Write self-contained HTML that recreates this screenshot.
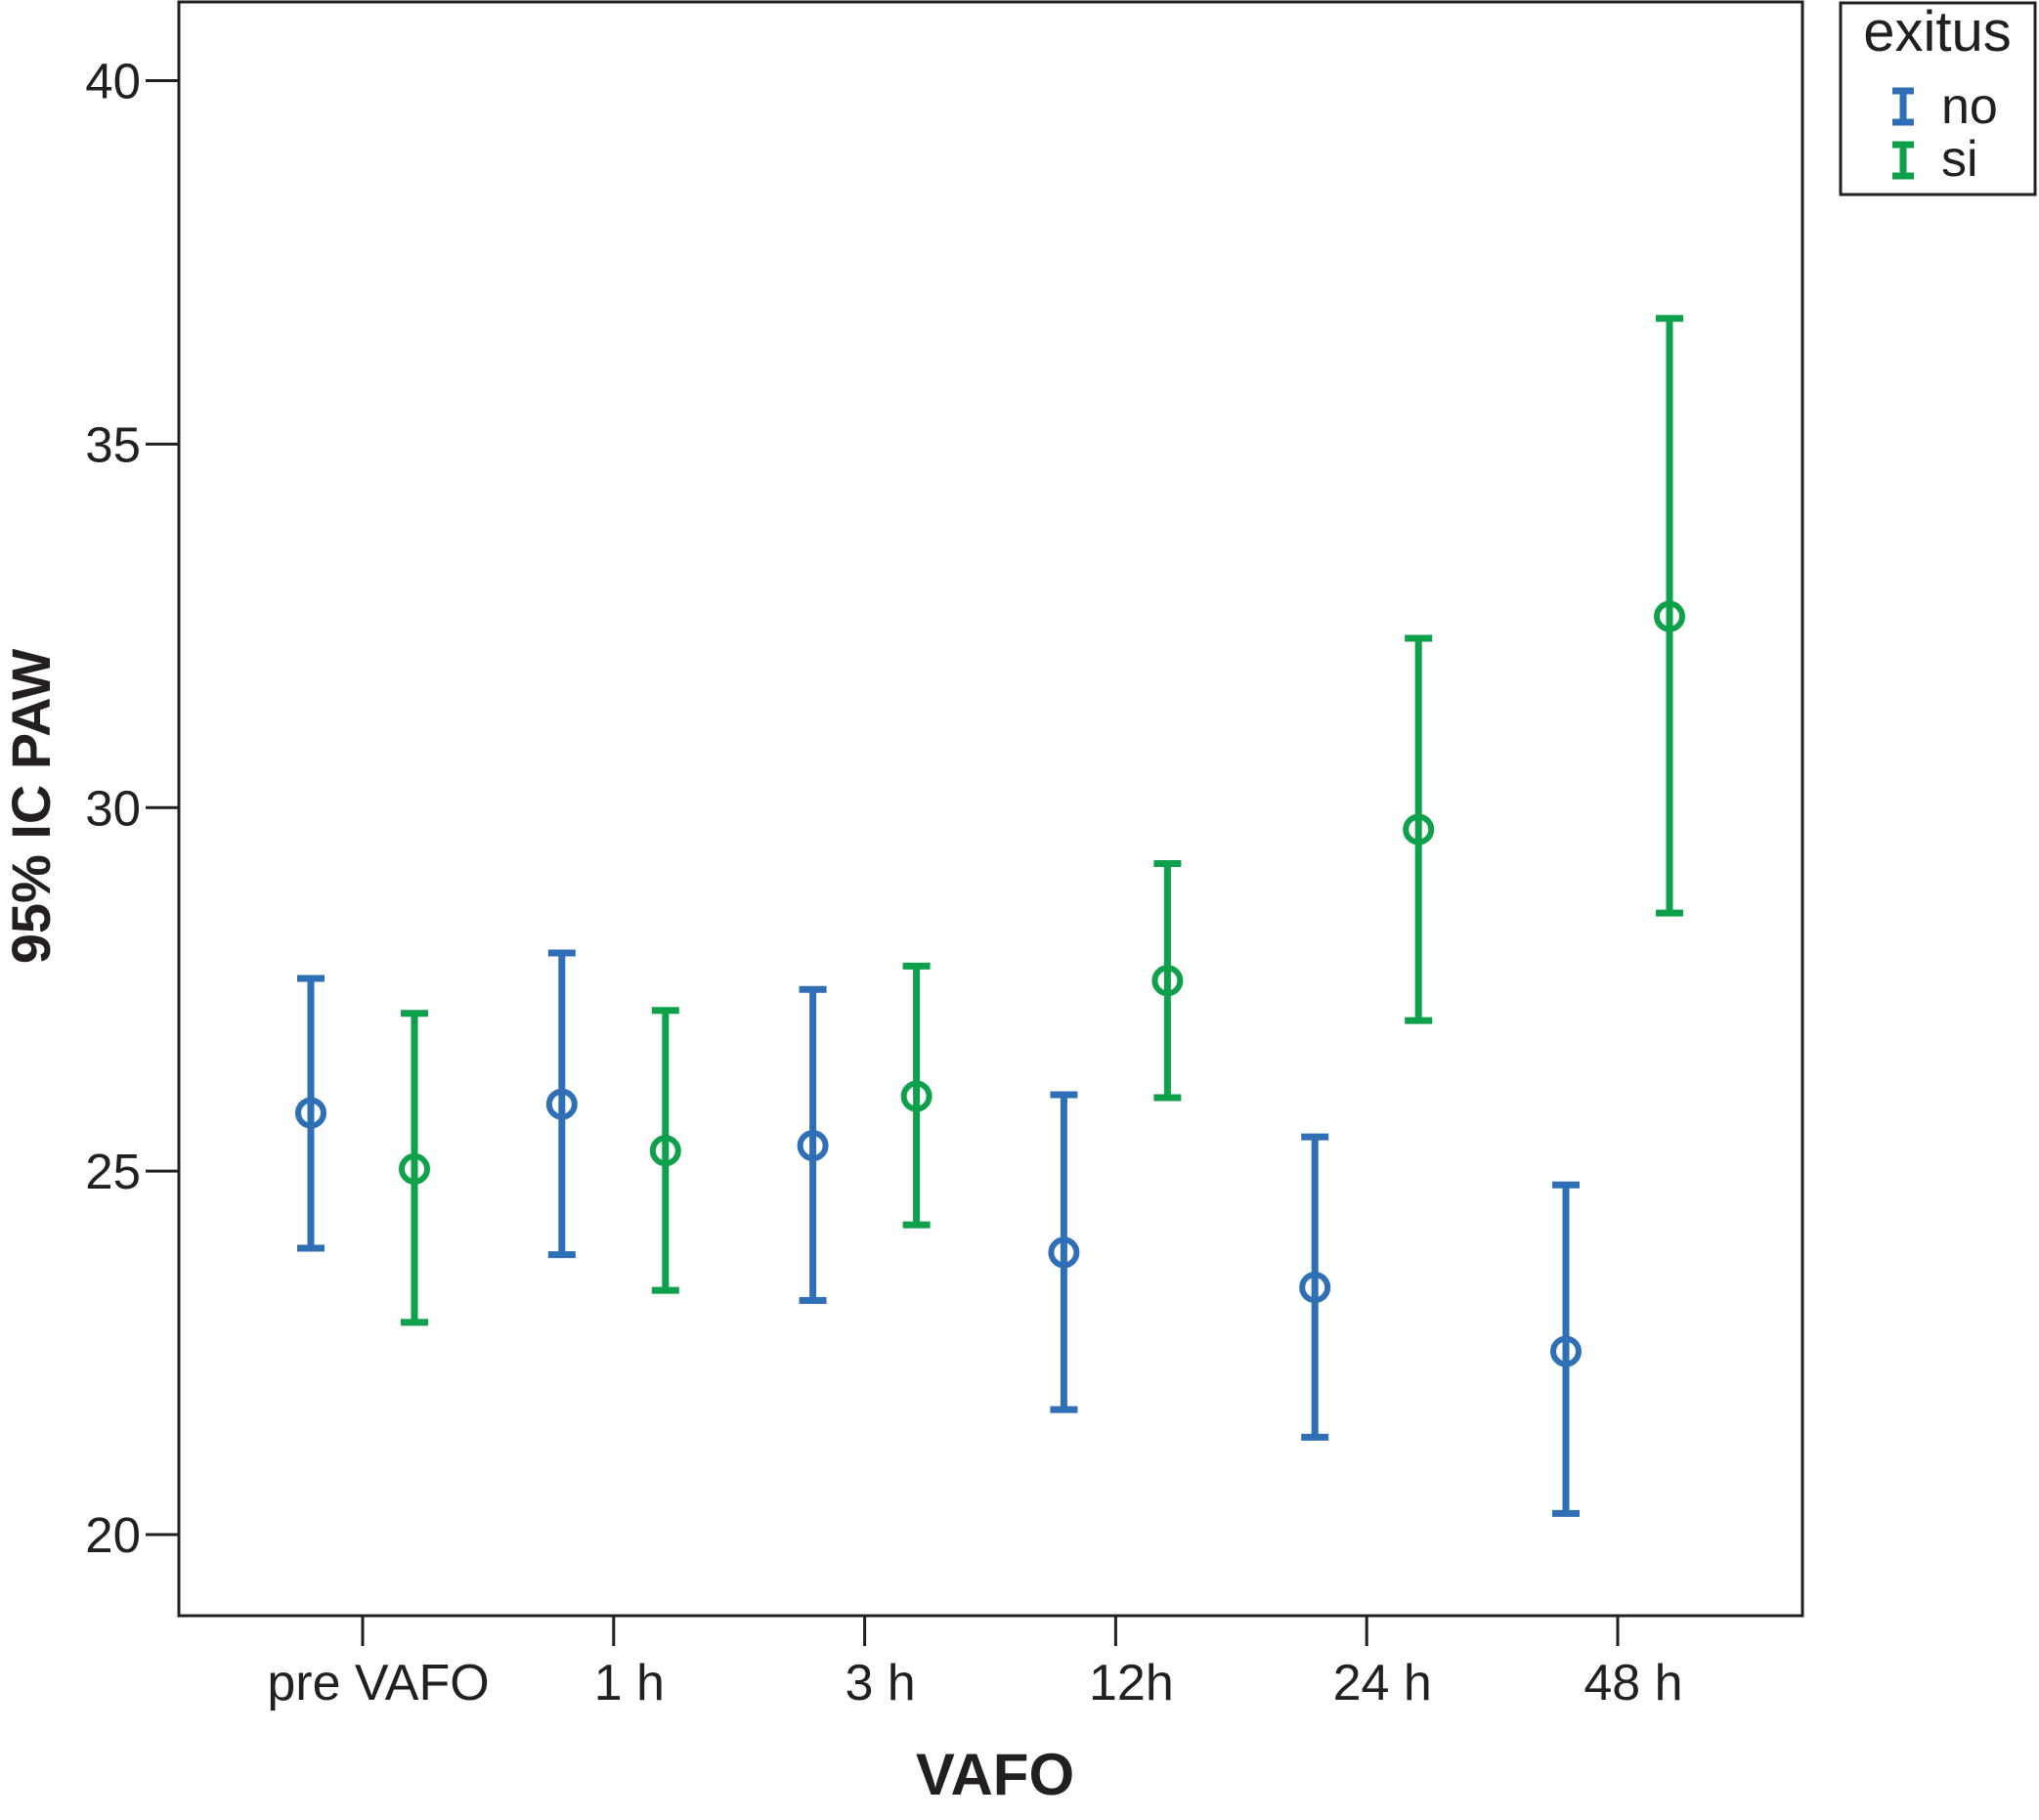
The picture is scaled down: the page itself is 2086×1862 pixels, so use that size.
<!DOCTYPE html>
<html><head><meta charset="utf-8"><style>
html,body{margin:0;padding:0;background:#fff;}
svg{display:block;font-family:"Liberation Sans",Arial,sans-serif;}
</style></head><body>
<svg id="chart" width="2086" height="1862" viewBox="0 0 2086 1862">
<rect x="183" y="2" width="1661" height="1651" fill="none" stroke="#231f20" stroke-width="3"/>
<g id="axes"></g>
<g id="marks"></g>
<text x="1018" y="1836" font-size="60" font-weight="bold" text-anchor="middle" fill="#231f20">VAFO</text>
<text transform="translate(51,825) rotate(-90)" font-size="56" font-weight="bold" text-anchor="middle" fill="#231f20">95% IC PAW</text>
<g>
<rect x="1883" y="3" width="199" height="196" fill="#fff" stroke="#231f20" stroke-width="3"/>
<text x="1982" y="52" font-size="58" text-anchor="middle" fill="#231f20">exitus</text>
<g>
<path d="M1936 93H1958M1947 93V125M1936 125H1958" stroke="#2f6fb5" stroke-width="7" fill="none"/>
<text x="1986" y="126" font-size="52" fill="#231f20">no</text></g>
<g>
<path d="M1936 148H1958M1947 148V180M1936 180H1958" stroke="#0fa04b" stroke-width="7" fill="none"/>
<text x="1986" y="180" font-size="52" fill="#231f20">si</text></g>
</g>
</svg>
<script>
const categories = ["pre VAFO","1 h","3 h","12h","24 h","48 h"];
const yTicks = [20,25,30,35,40];
const noMean = [25.80,25.92,25.35,23.88,23.40,22.52];
const noLow  = [23.94,23.85,23.22,21.72,21.34,20.29];
const noHigh = [27.65,28.00,27.50,26.05,25.47,24.81];
const siMean = [25.03,25.28,26.03,27.62,29.70,32.63];
const siLow  = [22.92,23.36,24.26,26.01,27.07,28.55];
const siHigh = [27.17,27.21,27.82,29.23,32.33,36.73];

const NS="http://www.w3.org/2000/svg";
const yScale = v => 1570 - (v-20)*(1570-82.5)/20;
const xScale = i => 371 + i*256.8;
function mk(tag, attrs, parent){const e=document.createElementNS(NS,tag);for(const k in attrs)e.setAttribute(k,attrs[k]);parent.appendChild(e);return e;}
const axes=document.getElementById('axes'), marks=document.getElementById('marks');
yTicks.forEach(t=>{
  const y=yScale(t);
  const l=mk('line',{x1:149,x2:183,y1:y,y2:y,stroke:'#231f20','stroke-width':3},axes);
  
  
  const tx=mk('text',{x:144,y:y+18,'font-size':51,'text-anchor':'end',fill:'#231f20'},axes);
  tx.textContent=t;
  
  
});
categories.forEach((c,i)=>{
  const x=xScale(i);
  const l=mk('line',{x1:x,x2:x,y1:1653,y2:1684,stroke:'#231f20','stroke-width':3},axes);
  
  
  const tx=mk('text',{x:x+16,y:1739,'font-size':52,'text-anchor':'middle',fill:'#231f20'},axes);
  tx.textContent=c;
  
  
});
function series(mean,low,high,off,color,name){
  mean.forEach((m,i)=>{
    const x=xScale(i)+off, yl=yScale(low[i]), yh=yScale(high[i]), ym=yScale(m);
    const g=mk('g',{},marks);
    
    
    mk('path',{d:`M${x-14} ${yh}H${x+14}M${x} ${yh}V${yl}M${x-14} ${yl}H${x+14}`,stroke:color,'stroke-width':7,fill:'none'},g);
    mk('circle',{cx:x,cy:ym,r:13,stroke:color,'stroke-width':6,fill:'none'},g);
  });
}
series(noMean,noLow,noHigh,-53,'#2f6fb5','no');
series(siMean,siLow,siHigh,53,'#0fa04b','si');
</script>
</body></html>
